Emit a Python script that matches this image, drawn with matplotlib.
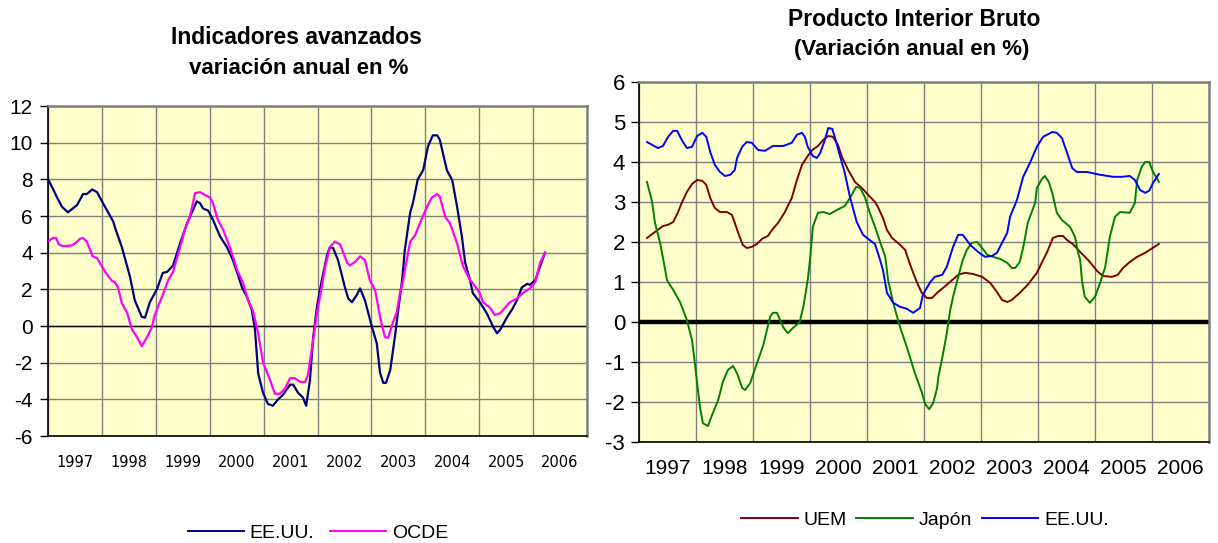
import matplotlib
matplotlib.use("Agg")
import matplotlib.pyplot as plt
import numpy as np
from matplotlib.lines import Line2D

plt.rcParams['font.family'] = ['Liberation Sans', 'DejaVu Sans']
plt.rcParams['axes.unicode_minus'] = False

years = ['1997', '1998', '1999', '2000', '2001', '2002', '2003', '2004', '2005', '2006']

# --- Indicadores avanzados (variación anual en %) ---
t_eeuu_ind = [1997.02, 1997.13, 1997.17, 1997.26, 1997.37, 1997.54, 1997.65, 1997.72, 1997.82, 1997.91,
              1998.02, 1998.21, 1998.24, 1998.37, 1998.52, 1998.61, 1998.74, 1998.80, 1998.89, 1999.02,
              1999.13, 1999.21, 1999.32, 1999.45, 1999.58, 1999.76, 1999.82, 1999.88, 1999.97, 2000.06,
              2000.19, 2000.32, 2000.43, 2000.51, 2000.60, 2000.69, 2000.78, 2000.84, 2000.90, 2000.99,
              2001.08, 2001.17, 2001.27, 2001.36, 2001.49, 2001.55, 2001.64, 2001.73, 2001.79, 2001.86,
              2001.92, 2001.99, 2002.08, 2002.18, 2002.23, 2002.29, 2002.38, 2002.51, 2002.57, 2002.64,
              2002.73, 2002.79, 2002.88, 2003.01, 2003.10, 2003.16, 2003.22, 2003.27, 2003.35, 2003.44,
              2003.49, 2003.57, 2003.62, 2003.72, 2003.77, 2003.86, 2003.96, 2004.05, 2004.14, 2004.22,
              2004.27, 2004.40, 2004.50, 2004.59, 2004.68, 2004.74, 2004.83, 2004.88, 2005.01, 2005.14,
              2005.26, 2005.33, 2005.39, 2005.52, 2005.61, 2005.70, 2005.79, 2005.89, 2005.94, 2006.04,
              2006.22]
eeuu_ind = [7.9, 7.25, 7.0, 6.5, 6.2, 6.6, 7.2, 7.2, 7.45, 7.3,
            6.7, 5.7, 5.4, 4.3, 2.7, 1.4, 0.5, 0.45, 1.3, 2.0,
            2.9, 2.95, 3.3, 4.5, 5.6, 6.8, 6.7, 6.4, 6.3, 5.8,
            4.9, 4.3, 3.6, 2.9, 2.1, 1.6, 0.9, -0.2, -2.6, -3.65,
            -4.25, -4.35, -4.0, -3.75, -3.2, -3.2, -3.65, -3.9, -4.35, -2.95,
            -0.6, 1.05, 2.5, 3.9, 4.3, 4.25, 3.6, 2.1, 1.5, 1.3,
            1.7, 2.05, 1.4, -0.05, -0.95, -2.55, -3.1, -3.1, -2.4, -0.5,
            0.7, 2.5, 4.15, 6.2, 6.7, 8.0, 8.5, 9.8, 10.4, 10.4,
            10.15, 8.5, 7.95, 6.5, 4.85, 3.45, 2.5, 1.8, 1.3, 0.7,
            -0.05, -0.4, -0.2, 0.5, 0.9, 1.4, 2.1, 2.3, 2.25, 2.5,
            4.0]

t_ocde_ind = [1997.02, 1997.09, 1997.15, 1997.20, 1997.28, 1997.45, 1997.54, 1997.59, 1997.65, 1997.72,
              1997.83, 1997.91, 1998.06, 1998.19, 1998.24, 1998.30, 1998.37, 1998.47, 1998.56, 1998.65,
              1998.74, 1998.84, 1998.93, 1998.97, 1999.04, 1999.13, 1999.23, 1999.32, 1999.45, 1999.54,
              1999.63, 1999.73, 1999.82, 1999.91, 2000.01, 2000.06, 2000.15, 2000.25, 2000.38, 2000.51,
              2000.62, 2000.71, 2000.80, 2000.90, 2000.99, 2001.12, 2001.21, 2001.30, 2001.40, 2001.49,
              2001.58, 2001.68, 2001.77, 2001.82, 2001.90, 2001.99, 2002.08, 2002.14, 2002.23, 2002.32,
              2002.42, 2002.55, 2002.60, 2002.70, 2002.79, 2002.88, 2002.97, 2003.07, 2003.16, 2003.25,
              2003.31, 2003.40, 2003.47, 2003.53, 2003.59, 2003.62, 2003.72, 2003.81, 2003.90, 2004.03,
              2004.12, 2004.22, 2004.27, 2004.37, 2004.46, 2004.59, 2004.70, 2004.83, 2004.88, 2005.01,
              2005.07, 2005.20, 2005.29, 2005.39, 2005.57, 2005.70, 2005.81, 2005.94, 2006.04, 2006.13,
              2006.22]
ocde_ind = [4.65, 4.8, 4.8, 4.45, 4.35, 4.4, 4.6, 4.75, 4.8, 4.6,
            3.8, 3.7, 2.95, 2.45, 2.4, 2.1, 1.25, 0.7, -0.2, -0.6,
            -1.1, -0.6, -0.05, 0.5, 1.05, 1.7, 2.5, 2.95, 4.3, 5.25,
            5.95, 7.25, 7.3, 7.15, 7.0, 6.7, 5.8, 5.25, 4.25, 3.05,
            2.35, 1.4, 0.85, -0.4, -2.0, -2.95, -3.7, -3.7, -3.4, -2.85,
            -2.85, -3.05, -3.05, -2.7, -1.15, 0.7, 2.15, 3.2, 4.3, 4.6,
            4.45, 3.45, 3.3, 3.5, 3.8, 3.6, 2.5, 1.95, 0.5, -0.6,
            -0.65, 0.2, 0.75, 1.8, 2.5, 3.05, 4.6, 4.95, 5.6, 6.5,
            7.0, 7.2, 7.05, 5.95, 5.6, 4.5, 3.25, 2.5, 2.35, 1.8,
            1.3, 1.0, 0.6, 0.7, 1.3, 1.5, 1.8, 2.05, 2.4, 3.45,
            4.0]

# --- Producto Interior Bruto (variación anual en %) ---
t_uem = [1997.14, 1997.28, 1997.42, 1997.51, 1997.60, 1997.68, 1997.75, 1997.84, 1997.93, 1998.02,
         1998.11, 1998.18, 1998.25, 1998.33, 1998.42, 1998.54, 1998.63, 1998.68, 1998.74, 1998.82,
         1998.89, 1998.98, 1999.07, 1999.16, 1999.26, 1999.35, 1999.44, 1999.56, 1999.68, 1999.77,
         1999.86, 1999.95, 2000.04, 2000.14, 2000.23, 2000.32, 2000.40, 2000.49, 2000.56, 2000.67,
         2000.79, 2000.91, 2001.02, 2001.14, 2001.19, 2001.28, 2001.35, 2001.44, 2001.58, 2001.67,
         2001.74, 2001.81, 2001.88, 2001.96, 2002.05, 2002.14, 2002.23, 2002.40, 2002.60, 2002.72,
         2002.86, 2003.02, 2003.16, 2003.28, 2003.37, 2003.46, 2003.54, 2003.68, 2003.82, 2003.98,
         2004.09, 2004.16, 2004.26, 2004.35, 2004.44, 2004.51, 2004.61, 2004.74, 2004.88, 2005.04,
         2005.14, 2005.30, 2005.40, 2005.49, 2005.61, 2005.74, 2005.88, 2006.12]
uem = [2.1, 2.25, 2.4, 2.43, 2.5, 2.73, 2.98, 3.25, 3.45, 3.55,
       3.53, 3.43, 3.1, 2.85, 2.75, 2.75, 2.68, 2.48, 2.23, 1.93,
       1.85, 1.88, 1.95, 2.08, 2.15, 2.33, 2.48, 2.75, 3.1, 3.55,
       3.93, 4.13, 4.3, 4.4, 4.55, 4.65, 4.63, 4.43, 4.13, 3.8,
       3.5, 3.35, 3.18, 3.0, 2.88, 2.6, 2.3, 2.1, 1.93, 1.8,
       1.5, 1.23, 0.98, 0.73, 0.6, 0.6, 0.73, 0.93, 1.18, 1.23,
       1.2, 1.13, 0.98, 0.75, 0.55, 0.5, 0.55, 0.73, 0.93, 1.23,
       1.55, 1.75, 2.1, 2.15, 2.15, 2.05, 1.95, 1.75, 1.55, 1.27,
       1.15, 1.13, 1.18, 1.35, 1.5, 1.63, 1.73, 1.95]

t_japon = [1997.14, 1997.23, 1997.28, 1997.37, 1997.46, 1997.49, 1997.60, 1997.72, 1997.84, 1997.93,
           1997.98, 1998.02, 1998.07, 1998.12, 1998.21, 1998.28, 1998.39, 1998.47, 1998.56, 1998.65,
           1998.72, 1998.81, 1998.86, 1998.95, 1999.07, 1999.18, 1999.30, 1999.35, 1999.42, 1999.53,
           1999.61, 1999.70, 1999.82, 1999.89, 1999.96, 2000.00, 2000.05, 2000.14, 2000.23, 2000.35,
           2000.47, 2000.61, 2000.70, 2000.81, 2000.88, 2000.96, 2001.05, 2001.14, 2001.23, 2001.32,
           2001.37, 2001.46, 2001.58, 2001.70, 2001.84, 2001.96, 2002.02, 2002.09, 2002.16, 2002.23,
           2002.25, 2002.32, 2002.40, 2002.46, 2002.51, 2002.60, 2002.68, 2002.75, 2002.84, 2002.93,
           2003.02, 2003.11, 2003.21, 2003.33, 2003.46, 2003.54, 2003.60, 2003.68, 2003.75, 2003.82,
           2003.95, 2003.98, 2004.07, 2004.12, 2004.19, 2004.25, 2004.33, 2004.42, 2004.56, 2004.65,
           2004.70, 2004.74, 2004.77, 2004.82, 2004.91, 2005.00, 2005.09, 2005.18, 2005.26, 2005.35,
           2005.44, 2005.61, 2005.70, 2005.74, 2005.82, 2005.88, 2005.95, 2006.02, 2006.12]
japon = [3.5, 3.0, 2.48, 1.98, 1.3, 1.05, 0.8, 0.5, 0.05, -0.45,
         -1.03, -1.53, -2.13, -2.53, -2.6, -2.33, -1.95, -1.5, -1.2, -1.1,
         -1.28, -1.65, -1.7, -1.53, -1.03, -0.58, 0.13, 0.23, 0.23, -0.13,
         -0.28, -0.15, 0.0, 0.43, 1.05, 1.55, 2.38, 2.73, 2.75, 2.7,
         2.8, 2.9, 3.1, 3.38, 3.35, 3.13, 2.73, 2.38, 2.0, 1.63,
         1.05, 0.48, -0.13, -0.63, -1.28, -1.75, -2.05, -2.18, -2.03, -1.65,
         -1.38, -0.9, -0.28, 0.3, 0.63, 1.13, 1.55, 1.8, 1.98, 2.0,
         1.85, 1.68, 1.63, 1.58, 1.48, 1.35, 1.35, 1.5, 1.93, 2.48,
         2.98, 3.35, 3.58, 3.65, 3.5, 3.23, 2.73, 2.55, 2.38, 2.13,
         1.75, 1.55, 1.05, 0.63, 0.48, 0.63, 0.98, 1.38, 2.13, 2.63,
         2.75, 2.73, 2.98, 3.55, 3.88, 4.0, 4.0, 3.75, 3.5]

t_eeuu_pib = [1997.14, 1997.33, 1997.42, 1997.51, 1997.60, 1997.67, 1997.75, 1997.84, 1997.93, 1998.02,
              1998.11, 1998.18, 1998.25, 1998.33, 1998.42, 1998.51, 1998.60, 1998.68, 1998.72, 1998.81,
              1998.89, 1998.98, 1999.09, 1999.21, 1999.35, 1999.53, 1999.68, 1999.77, 1999.86, 1999.91,
              1999.96, 2000.05, 2000.12, 2000.18, 2000.26, 2000.32, 2000.39, 2000.44, 2000.53, 2000.61,
              2000.70, 2000.82, 2000.93, 2001.02, 2001.14, 2001.23, 2001.28, 2001.35, 2001.46, 2001.58,
              2001.70, 2001.81, 2001.93, 2001.98, 2002.11, 2002.19, 2002.32, 2002.40, 2002.51, 2002.60,
              2002.68, 2002.81, 2002.95, 2003.07, 2003.19, 2003.28, 2003.37, 2003.46, 2003.51, 2003.63,
              2003.74, 2003.86, 2003.98, 2004.09, 2004.25, 2004.33, 2004.42, 2004.51, 2004.60, 2004.68,
              2004.86, 2005.09, 2005.32, 2005.47, 2005.61, 2005.70, 2005.79, 2005.88, 2005.95, 2006.02,
              2006.12]
eeuu_pib = [4.5, 4.35, 4.4, 4.63, 4.78, 4.78, 4.55, 4.35, 4.38, 4.65,
            4.73, 4.63, 4.25, 3.93, 3.75, 3.65, 3.68, 3.8, 4.1, 4.38,
            4.5, 4.48, 4.3, 4.28, 4.4, 4.4, 4.48, 4.68, 4.73, 4.63,
            4.38, 4.15, 4.1, 4.23, 4.55, 4.85, 4.83, 4.6, 4.13, 3.73,
            3.13, 2.5, 2.18, 2.08, 1.95, 1.55, 1.3, 0.73, 0.48, 0.38,
            0.33, 0.23, 0.35, 0.68, 1.0, 1.13, 1.18, 1.38, 1.88, 2.18,
            2.18, 1.93, 1.75, 1.63, 1.65, 1.73, 1.98, 2.23, 2.63, 3.05,
            3.63, 3.98, 4.38, 4.63, 4.75, 4.73, 4.6, 4.23, 3.85, 3.75,
            3.75, 3.68, 3.63, 3.63, 3.65, 3.55, 3.3, 3.23, 3.28, 3.48,
            3.7]

W, H = 1218, 543
fig = plt.figure(figsize=(W / 100, H / 100), dpi=100)
fig.patch.set_facecolor('white')


def style_axes(ax, ylo, yhi, ystep, labelsize, ypad, xfont, xsize, xpad):
    ax.set_facecolor('#FFFFCC')
    ax.set_xlim(1997, 2007)
    ax.set_ylim(ylo, yhi)
    ax.set_yticks(np.arange(ylo, yhi + 0.1, ystep))
    ax.set_xticks(np.arange(1997, 2008))
    ax.set_xticklabels([])
    ax.set_xticks(np.arange(1997.5, 2007, 1.0), minor=True)
    ax.set_xticklabels(years, minor=True, fontsize=xsize, family=xfont)
    ax.tick_params(axis='x', which='both', length=0)
    ax.tick_params(axis='x', which='minor', pad=xpad)
    ax.tick_params(axis='y', which='major', length=6, width=1, direction='out',
                   labelsize=labelsize, pad=ypad)
    ax.grid(True, which='major', color='#808080', lw=1)
    ax.set_axisbelow(True)
    for s in ['left', 'bottom']:
        ax.spines[s].set_color('black')
        ax.spines[s].set_linewidth(1.2)
    for s in ['top', 'right']:
        ax.spines[s].set_color('#808080')
        ax.spines[s].set_linewidth(1.8)


# left chart
axL = fig.add_axes([48 / W, 1 - 436 / H, 539 / W, 330 / H])
style_axes(axL, -6, 12, 2, 15, 5, 'DejaVu Sans', 10.5, 14)
axL.axhline(0, color='black', lw=1.0, zorder=2)
axL.plot(t_eeuu_ind, eeuu_ind, color='#000080', lw=1.6, zorder=3)
axL.plot(t_ocde_ind, ocde_ind, color='#FF00FF', lw=1.6, zorder=3)

fig.text(296 / W, 1 - 37 / H, 'Indicadores avanzados', ha='center', va='center',
         fontsize=16.5, fontweight='bold')
fig.text(299 / W, 1 - 68 / H, 'variación anual en %', ha='center', va='center',
         fontsize=16, fontweight='bold')

fig.legend([Line2D([], [], color='#000080', lw=1.4), Line2D([], [], color='#FF00FF', lw=1.4)],
           ['EE.UU.', 'OCDE'], loc='center', bbox_to_anchor=(318 / W, 1 - 533 / H),
           ncol=2, frameon=False, fontsize=14, handlelength=2.9, handletextpad=0.3,
           columnspacing=0.8)

# right chart
axR = fig.add_axes([639 / W, 1 - 442 / H, 570 / W, 360 / H])
style_axes(axR, -3, 6, 1, 16, 4, 'Liberation Sans', 15, 12)
axR.axhline(0, color='black', lw=3.2, zorder=2)
axR.plot(t_uem, uem, color='#800000', lw=1.4, zorder=3)
axR.plot(t_japon, japon, color='#008000', lw=1.4, zorder=3)
axR.plot(t_eeuu_pib, eeuu_pib, color='#0000FF', lw=1.4, zorder=3)

fig.text(914 / W, 1 - 20 / H, 'Producto Interior Bruto', ha='center', va='center',
         fontsize=16.5, fontweight='bold')
fig.text(912 / W, 1 - 50 / H, '(Variación anual en %)', ha='center', va='center',
         fontsize=16, fontweight='bold')

fig.legend([Line2D([], [], color='#800000', lw=1.4), Line2D([], [], color='#008000', lw=1.4),
            Line2D([], [], color='#0000FF', lw=1.4)],
           ['UEM', 'Japón', 'EE.UU.'], loc='center', bbox_to_anchor=(925 / W, 1 - 520 / H),
           ncol=3, frameon=False, fontsize=14, handlelength=2.9, handletextpad=0.3,
           columnspacing=0.5)

fig.savefig('out.png', dpi=100)
